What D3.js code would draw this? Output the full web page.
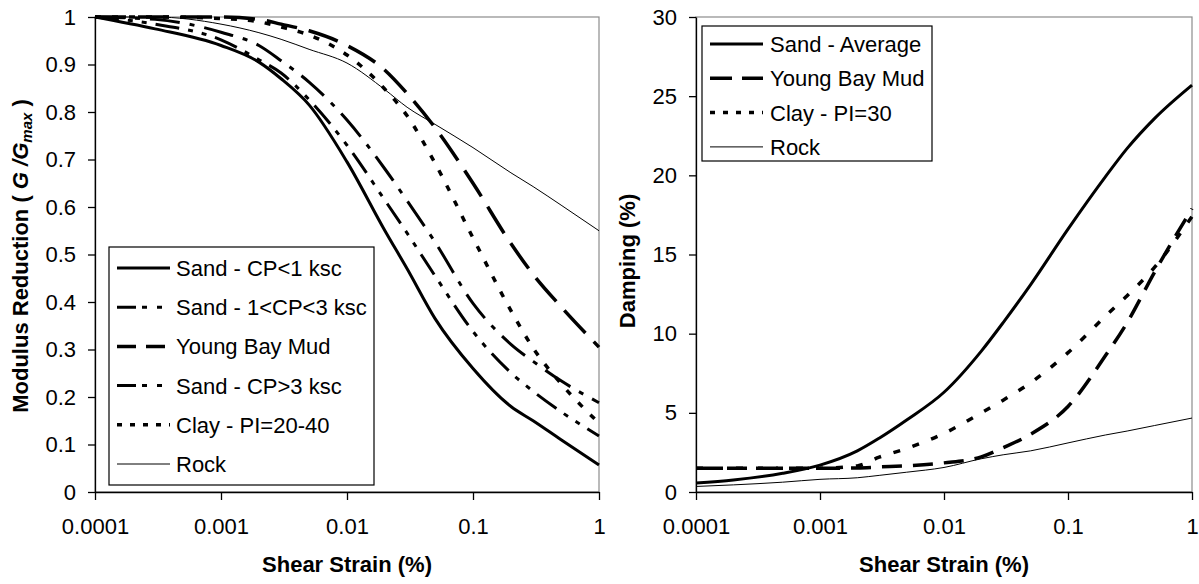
<!DOCTYPE html>
<html>
<head>
<meta charset="utf-8">
<script src="https://cdn.jsdelivr.net/npm/d3@7"></script>
<style>
  html, body { margin: 0; padding: 0; background: #fff; }
  svg { display: block; font-family: "Liberation Sans", Arial, sans-serif; }
</style>
</head>
<body>
<svg id="chart" width="1199" height="584"></svg>
<script>
// ---------- Data ----------
// Left chart: modulus reduction vs shear strain (%)
const strainL = [0.0001, 0.0003, 0.001, 0.002, 0.003, 0.005, 0.01, 0.02, 0.03, 0.05, 0.1, 0.2, 0.3, 0.5, 1];
const sandCPlt1   = [1.0, 0.975, 0.94, 0.905, 0.87, 0.815, 0.695, 0.55, 0.47, 0.365, 0.26, 0.18, 0.15, 0.11, 0.057];
const sandCP1to3  = [1.0, 0.985, 0.952, 0.91, 0.882, 0.826, 0.73, 0.614, 0.545, 0.455, 0.338, 0.251, 0.212, 0.169, 0.118];
const youngBayMudG = [1.0, 1.0, 1.0, 0.995, 0.985, 0.971, 0.94, 0.888, 0.839, 0.767, 0.65, 0.523, 0.458, 0.39, 0.305];
const sandCPgt3   = [1.0, 0.995, 0.968, 0.94, 0.908, 0.863, 0.783, 0.68, 0.613, 0.526, 0.397, 0.311, 0.275, 0.234, 0.188];
const clayPI2040  = [1.0, 1.0, 0.997, 0.99, 0.979, 0.962, 0.92, 0.848, 0.792, 0.692, 0.535, 0.382, 0.303, 0.228, 0.145];
const rockG       = [1.0, 1.0, 0.985, 0.967, 0.953, 0.932, 0.903, 0.847, 0.81, 0.774, 0.725, 0.672, 0.643, 0.604, 0.55];

// Right chart: damping (%) vs shear strain (%)
const strainR = [0.0001, 0.0002, 0.0005, 0.001, 0.002, 0.003, 0.005, 0.01, 0.02, 0.03, 0.05, 0.1, 0.2, 0.3, 0.5, 1];
const sandAvgD = [0.57, 0.76, 1.18, 1.7, 2.6, 3.4, 4.55, 6.3, 8.9, 10.7, 13.1, 16.6, 19.9, 21.7, 23.6, 25.7];
const youngBayMudD = [1.5, 1.5, 1.5, 1.5, 1.52, 1.58, 1.65, 1.84, 2.22, 2.8, 3.65, 5.4, 8.6, 10.7, 13.9, 17.9];
const clayPI30D = [1.5, 1.5, 1.5, 1.5, 1.65, 2.2, 2.75, 3.7, 5.0, 5.8, 6.9, 8.8, 11.1, 12.4, 14.2, 17.4];
const rockD = [0.35, 0.45, 0.62, 0.8, 0.9, 1.05, 1.25, 1.55, 2.1, 2.35, 2.6, 3.1, 3.6, 3.85, 4.2, 4.67];

// Tick labels
const xTickValues = [0.0001, 0.001, 0.01, 0.1, 1];
const xTickLabels = ["0.0001", "0.001", "0.01", "0.1", "1"];
const yTickValuesL = [0, 0.1, 0.2, 0.3, 0.4, 0.5, 0.6, 0.7, 0.8, 0.9, 1];
const yTickLabelsL = ["0", "0.1", "0.2", "0.3", "0.4", "0.5", "0.6", "0.7", "0.8", "0.9", "1"];
const yTickValuesR = [0, 5, 10, 15, 20, 25, 30];
const yTickLabelsR = ["0", "5", "10", "15", "20", "25", "30"];

// Series names
const namesL = ["Sand - CP<1 ksc", "Sand - 1<CP<3 ksc", "Young Bay Mud", "Sand - CP>3 ksc", "Clay - PI=20-40", "Rock"];
const namesR = ["Sand - Average", "Young Bay Mud", "Clay - PI=30", "Rock"];

// ---------- Styles ----------
const stylesL = [
  { w: 3,   dash: null,                 legendDash: null },
  { w: 3,   dash: "24,9,5,9,5,9",       legendDash: "19,6,5,10,5,10" },
  { w: 3.5, dash: "31,12",              legendDash: "19,10" },
  { w: 3,   dash: "30,10,5,10",         legendDash: "19,6,5,10,5,10" },
  { w: 3.5, dash: "6,11",               legendDash: "5,8" },
  { w: 1,   dash: null,                 legendDash: null }
];
const stylesR = [
  { w: 3,   dash: null,    legendDash: null },
  { w: 3.5, dash: "20,11", legendDash: "22,10" },
  { w: 3.5, dash: "7,13",  legendDash: "5,8" },
  { w: 1,   dash: null,    legendDash: null }
];

const svg = d3.select("#chart");
const FONT = 22;

function drawPanel(opts) {
  const { x0, x1, y0, y1, yDomain, yTicks, yLabels, seriesX, series, styles } = opts;
  const x = d3.scaleLog().domain([0.0001, 1]).range([x0, x1]);
  const y = d3.scaleLinear().domain(yDomain).range([y1, y0]);
  const g = svg.append("g");

  // plot area border (grey top/right)
  g.append("rect").attr("x", x0).attr("y", y0).attr("width", x1 - x0).attr("height", y1 - y0)
    .attr("fill", "none").attr("stroke", "#8c8c8c").attr("stroke-width", 1.2);

  // series
  const line = d3.line().x(d => x(d[0])).y(d => y(d[1])).curve(d3.curveMonotoneX);
  series.forEach((vals, i) => {
    const pts = seriesX.map((s, j) => [s, vals[j]]);
    const st = styles[i];
    g.append("path").attr("d", line(pts)).attr("fill", "none").attr("stroke", "#000")
      .attr("stroke-width", st.w).attr("stroke-dasharray", st.dash);
  });

  // axes
  const xAxis = d3.axisBottom(x).tickValues(xTickValues)
    .tickFormat((d, i) => xTickLabels[i]).tickSize(8).tickSizeOuter(0).tickPadding(18);
  const gx = g.append("g").attr("transform", `translate(0,${y1})`).call(xAxis);
  const yAxis = d3.axisLeft(y).tickValues(yTicks)
    .tickFormat((d, i) => yLabels[i]).tickSize(7).tickSizeOuter(0).tickPadding(12);
  const gy = g.append("g").attr("transform", `translate(${x0},0)`).call(yAxis);
  [gx, gy].forEach(a => {
    a.selectAll("text").attr("font-size", FONT).attr("fill", "#000")
      .attr("font-family", "'Liberation Sans', Arial, sans-serif");
    a.selectAll("line").attr("stroke", "#000").attr("stroke-width", 1.3);
    a.select(".domain").attr("stroke", "#000").attr("stroke-width", 1.3);
  });

  // x title
  g.append("text").attr("x", (x0 + x1) / 2).attr("y", 572).attr("text-anchor", "middle")
    .attr("font-size", FONT).attr("font-weight", "bold").text("Shear Strain (%)");
  return { x, y };
}

function drawLegend(box, names, styles) {
  const g = svg.append("g");
  g.append("rect").attr("x", box.x).attr("y", box.y).attr("width", box.w).attr("height", box.h)
    .attr("fill", "#fff").attr("stroke", "#000").attr("stroke-width", 1.2);
  names.forEach((n, i) => {
    const cy = box.firstY + i * box.step;
    const st = styles[i];
    g.append("line").attr("x1", box.lx1).attr("x2", box.lx2).attr("y1", cy).attr("y2", cy)
      .attr("stroke", "#000").attr("stroke-width", st.w).attr("stroke-dasharray", st.legendDash);
    g.append("text").attr("x", box.tx).attr("y", cy + 8).attr("font-size", FONT).attr("fill", "#000").text(n);
  });
}

// Left panel
drawPanel({
  x0: 95, x1: 599, y0: 17, y1: 492, yDomain: [0, 1],
  yTicks: yTickValuesL, yLabels: yTickLabelsL, seriesX: strainL,
  series: [sandCPlt1, sandCP1to3, youngBayMudG, sandCPgt3, clayPI2040, rockG],
  styles: stylesL
});
// Right panel
drawPanel({
  x0: 696, x1: 1192, y0: 17, y1: 492, yDomain: [0, 30],
  yTicks: yTickValuesR, yLabels: yTickLabelsR, seriesX: strainR,
  series: [sandAvgD, youngBayMudD, clayPI30D, rockD],
  styles: stylesR
});

// Legends
drawLegend({ x: 109, y: 247, w: 265, h: 238, firstY: 268, step: 39.2, lx1: 117, lx2: 170, tx: 176 }, namesL, stylesL);
drawLegend({ x: 702, y: 26, w: 230, h: 135, firstY: 44, step: 34.3, lx1: 710, lx2: 763, tx: 770 }, namesR, stylesR);

// Y titles
const yt = svg.append("text").attr("transform", "translate(28,256) rotate(-90)")
  .attr("text-anchor", "middle").attr("font-size", FONT).attr("font-weight", "bold");
yt.append("tspan").text("Modulus Reduction (  ");
yt.append("tspan").attr("font-style", "italic").text("G /G");
yt.append("tspan").attr("font-style", "italic").attr("font-size", 15).attr("dy", 4).text("max");
yt.append("tspan").attr("dy", -4).text(" )");

svg.append("text").attr("transform", "translate(635,261) rotate(-90)")
  .attr("text-anchor", "middle").attr("font-size", FONT).attr("font-weight", "bold").text("Damping (%)");
</script>
</body>
</html>
